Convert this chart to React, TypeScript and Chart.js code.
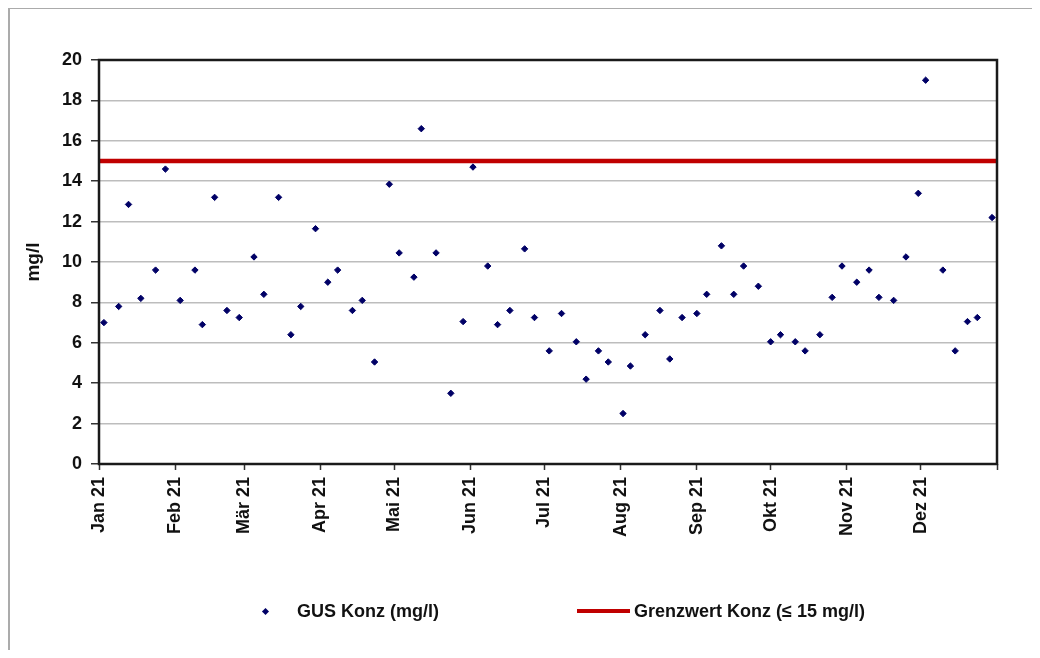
import React, { useEffect, useRef } from "react";
import { Chart, registerables } from "chart.js";

Chart.register(...registerables);

// ---- Data ----
const sampleDates = [
  "2021-01-03", "2021-01-09", "2021-01-13", "2021-01-18", "2021-01-24", "2021-01-28",
  "2021-02-03", "2021-02-09", "2021-02-12", "2021-02-17", "2021-02-22", "2021-02-27",
  "2021-03-05", "2021-03-09", "2021-03-15", "2021-03-20", "2021-03-24", "2021-03-30",
  "2021-04-04", "2021-04-08", "2021-04-14", "2021-04-18", "2021-04-23", "2021-04-29",
  "2021-05-03", "2021-05-09", "2021-05-12", "2021-05-18", "2021-05-24", "2021-05-29",
  "2021-06-02", "2021-06-08", "2021-06-12", "2021-06-17", "2021-06-23", "2021-06-27",
  "2021-07-03", "2021-07-08", "2021-07-14", "2021-07-18", "2021-07-23", "2021-07-27",
  "2021-08-02", "2021-08-05", "2021-08-11", "2021-08-17", "2021-08-21", "2021-08-26",
  "2021-09-01", "2021-09-05", "2021-09-11", "2021-09-16", "2021-09-20", "2021-09-26",
  "2021-10-01", "2021-10-05", "2021-10-11", "2021-10-15", "2021-10-21", "2021-10-26",
  "2021-10-30", "2021-11-05", "2021-11-10", "2021-11-14", "2021-11-20", "2021-11-25",
  "2021-11-30", "2021-12-03", "2021-12-10", "2021-12-15", "2021-12-20", "2021-12-24",
  "2021-12-30",
];

const gusValues = [
  7.0, 7.8, 12.85, 8.2, 9.6, 14.6,
  8.1, 9.6, 6.9, 13.2, 7.6, 7.25,
  10.25, 8.4, 13.2, 6.4, 7.8, 11.65,
  9.0, 9.6, 7.6, 8.1, 5.05, 13.85,
  10.45, 9.25, 16.6, 10.45, 3.5, 7.05,
  14.7, 9.8, 6.9, 7.6, 10.65, 7.25,
  5.6, 7.45, 6.05, 4.2, 5.6, 5.05,
  2.5, 4.85, 6.4, 7.6, 5.2, 7.25,
  7.45, 8.4, 10.8, 8.4, 9.8, 8.8,
  6.05, 6.4, 6.05, 5.6, 6.4, 8.25,
  9.8, 9.0, 9.6, 8.25, 8.1, 10.25,
  13.4, 19.0, 9.6, 5.6, 7.05, 7.25,
  12.2,
];

const limitValue = 15;

const monthStarts = [
  "2021-01-01", "2021-02-01", "2021-03-01", "2021-04-01", "2021-05-01", "2021-06-01",
  "2021-07-01", "2021-08-01", "2021-09-01", "2021-10-01", "2021-11-01", "2021-12-01",
  "2022-01-01",
];

const monthLabels = [
  "Jan 21", "Feb 21", "Mär 21", "Apr 21", "Mai 21", "Jun 21",
  "Jul 21", "Aug 21", "Sep 21", "Okt 21", "Nov 21", "Dez 21",
];

const yMin = 0;
const yMax = 20;
const yStep = 2;

const seriesLabel = "GUS Konz (mg/l)";
const limitLabel = "Grenzwert Konz (\u2264 15 mg/l)";
const yTitle = "mg/l";

const FONT = "'Liberation Sans', Arial, Helvetica, sans-serif";

const dayOf = (iso: string) => {
  const [y, m, d] = iso.split("-").map(Number);
  return (Date.UTC(y, m - 1, d) - Date.UTC(2021, 0, 1)) / 86400000;
};

export default function App() {
  const ref = useRef<HTMLCanvasElement>(null);

  useEffect(() => {
    const tickPositions = monthStarts.map(dayOf);

    const framePlugin = {
      id: "frameBox",
      afterDraw(chart: any) {
        const { ctx, chartArea } = chart;
        const { left, top, right, bottom } = chartArea;
        ctx.save();
        ctx.strokeStyle = "#1a1a1a";
        ctx.lineWidth = 2.5;
        ctx.strokeRect(left, top, right - left, bottom - top);
        ctx.restore();
      },
    };

    const chart = new Chart(ref.current as HTMLCanvasElement, {
      type: "scatter",
      data: {
        datasets: [
          {
            type: "scatter",
            label: seriesLabel,
            data: sampleDates.map((d, i) => ({ x: dayOf(d), y: gusValues[i] })),
            pointStyle: "rectRot",
            pointRadius: 3.2,
            pointBorderWidth: 1,
            backgroundColor: "#000066",
            borderColor: "#000066",
            order: 1,
          } as any,
          {
            type: "line",
            label: limitLabel,
            data: [
              { x: tickPositions[0], y: limitValue },
              { x: tickPositions[tickPositions.length - 1], y: limitValue },
            ],
            borderColor: "#c00000",
            backgroundColor: "#c00000",
            borderWidth: 4.5,
            pointRadius: 0,
            fill: false,
            showLine: true,
            order: 2,
          } as any,
        ],
      },
      options: {
        responsive: false,
        animation: false,
        layout: { padding: { top: 60, right: 43, left: 0, bottom: 0 } },
        plugins: {
          legend: { display: false },
          tooltip: { enabled: false },
        },
        scales: {
          x: {
            type: "linear",
            min: tickPositions[0],
            max: tickPositions[tickPositions.length - 1],
            afterBuildTicks: (s: any) => {
              s.ticks = tickPositions.map((v) => ({ value: v }));
            },
            afterFit: (s: any) => {
              s.height = 194;
            },
            border: { display: false },
            grid: {
              drawOnChartArea: false,
              drawTicks: true,
              tickLength: 6,
              tickColor: "#333",
              tickWidth: 1.5,
            },
            ticks: {
              autoSkip: false,
              maxRotation: 90,
              minRotation: 90,
              padding: 7,
              color: "#111",
              font: { family: FONT, size: 18, weight: "bold" },
              callback: (v: any) => {
                const i = tickPositions.indexOf(Number(v));
                return i >= 0 && i < monthLabels.length ? monthLabels[i] : "";
              },
            },
          },
          y: {
            min: yMin,
            max: yMax,
            afterFit: (s: any) => {
              s.width = 99;
            },
            border: { display: false },
            grid: {
              color: "#bdbdbd",
              lineWidth: 1.5,
              tickColor: "#333",
              tickLength: 8,
              tickWidth: 1.5,
            },
            ticks: {
              stepSize: yStep,
              padding: 9,
              color: "#111",
              font: { family: FONT, size: 18, weight: "bold" },
            },
            title: {
              display: true,
              text: yTitle,
              color: "#111",
              font: { family: FONT, size: 19, weight: "bold" },
              padding: { top: 22, bottom: 0 },
            },
          },
        },
      } as any,
      plugins: [framePlugin],
    });

    return () => chart.destroy();
  }, []);

  const legendText: React.CSSProperties = {
    position: "absolute",
    top: 593,
    fontFamily: FONT,
    fontWeight: "bold",
    fontSize: 18,
    lineHeight: "20px",
    color: "#111",
    whiteSpace: "nowrap",
  };

  return (
    <div style={{ position: "relative", width: 1024, height: 642 }}>
      <div
        style={{
          position: "absolute",
          left: 0,
          top: -1,
          width: 1032,
          height: 651,
          borderLeft: "2px solid #ababab",
          borderTop: "2px solid #ababab",
          boxSizing: "border-box",
        }}
      />
      <canvas
        ref={ref}
        width={1040}
        height={658}
        style={{ position: "absolute", left: -8, top: -8, width: 1040, height: 658 }}
      />
      {/* legend */}
      <div
        style={{
          position: "absolute",
          left: 257 - 2.5,
          top: 603 - 2.5,
          width: 5,
          height: 5,
          background: "#000066",
          transform: "rotate(45deg)",
        }}
      />
      <div style={{ ...legendText, left: 289 }}>{seriesLabel}</div>
      <div
        style={{
          position: "absolute",
          left: 569,
          top: 601,
          width: 53,
          height: 4,
          background: "#c00000",
        }}
      />
      <div style={{ ...legendText, left: 626 }}>{limitLabel}</div>
    </div>
  );
}
